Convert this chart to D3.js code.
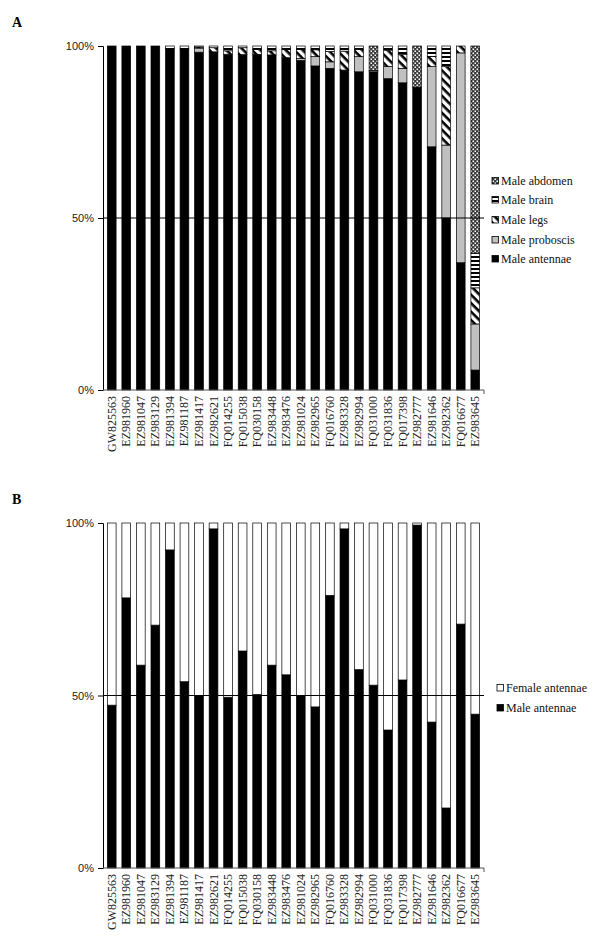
<!DOCTYPE html>
<html>
<head>
<meta charset="utf-8">
<script src="https://cdn.jsdelivr.net/npm/d3@7"></script>
<style>
  html, body { margin: 0; padding: 0; background: #fff; }
  svg { display: block; }
</style>
</head>
<body>
<svg id="chart" width="600" height="943"></svg>
<script>
const categories = ["GW825563","EZ981960","EZ981047","EZ983129","EZ981394","EZ981187","EZ981417","EZ982621","FQ014255","FQ015038","FQ030158","EZ983448","EZ983476","EZ981024","EZ982965","FQ016760","EZ983328","EZ982994","FQ031000","FQ031836","FQ017398","EZ982777","EZ981646","EZ982362","FQ016677","EZ983645"];

// Panel A (percent of total, stacked bottom to top)
const maleAntennaeA  = [100,100,100,100,99.2,99.1,98.2,98.3,97.6,97.5,97.6,97.4,96.6,95.8,94.2,93.5,93.0,92.5,92.5,90.5,89.3,87.8,70.7,50.0,37.0,5.8];
const maleProboscisA = [0,0,0,0,0,0,1.2,0,0,0,0,0,0,0.6,2.7,1.9,0,4.4,0.4,3.6,4.2,0.2,23.3,21.2,61.0,13.4];
const maleLegsA      = [0,0,0,0,0,0,0.3,1.2,1.0,2.0,1.4,1.2,2.4,2.6,2.0,3.0,5.5,2.1,0,4.7,4.0,0,3.0,22.8,2.0,10.5];
const maleBrainA     = [0,0,0,0,0.8,0.9,0.3,0.5,1.4,0.5,1.0,1.4,1.0,1.0,1.1,1.6,1.5,1.0,0,1.2,2.5,0,3.0,6.0,0,10.0];
const maleAbdomenA   = [0,0,0,0,0,0,0,0,0,0,0,0,0,0,0,0,0,0,7.1,0,0,12.0,0,0,0,60.3];

// Panel B
const maleAntennaeB   = [47.2,78.3,58.8,70.4,92.2,54.0,50.0,98.3,49.5,62.9,50.3,58.8,56.0,50.0,46.7,79.0,98.3,57.5,53.0,40.0,54.5,99.4,42.3,17.4,70.7,44.6];
const femaleAntennaeB = [52.8,21.7,41.2,29.6,7.8,46.0,50.0,1.7,50.5,37.1,49.7,41.2,44.0,50.0,53.3,21.0,1.7,42.5,47.0,60.0,45.5,0.6,57.7,82.6,29.3,55.4];

const yTicks = [0, 50, 100];
const yTickLabels = ["0%", "50%", "100%"];

const seriesA = [
  {name: "Male antennae",  values: maleAntennaeA,  fill: "#000"},
  {name: "Male proboscis", values: maleProboscisA, fill: "#c0c0c0"},
  {name: "Male legs",      values: maleLegsA,      fill: "url(#pLegs)"},
  {name: "Male brain",     values: maleBrainA,     fill: "url(#pBrain)"},
  {name: "Male abdomen",   values: maleAbdomenA,   fill: "url(#pAbd)"}
];
const seriesB = [
  {name: "Male antennae",   values: maleAntennaeB,   fill: "#000"},
  {name: "Female antennae", values: femaleAntennaeB, fill: "#fff"}
];

const SERIF = "'Liberation Serif', 'Times New Roman', serif";
const SANS = "'Liberation Sans', Arial, sans-serif";

const svg = d3.select("#chart");
const defs = svg.append("defs");

// patterns
const pAbd = defs.append("pattern").attr("id","pAbd").attr("patternUnits","userSpaceOnUse").attr("width",4).attr("height",4);
pAbd.append("rect").attr("width",4).attr("height",4).attr("fill","#3a3a3a");
pAbd.append("rect").attr("x",0.5).attr("y",0.5).attr("width",1.6).attr("height",1.6).attr("fill","#fff");
pAbd.append("rect").attr("x",2.5).attr("y",2.5).attr("width",1.6).attr("height",1.6).attr("fill","#fff");

const pBrain = defs.append("pattern").attr("id","pBrain").attr("patternUnits","userSpaceOnUse").attr("width",4).attr("height",4);
pBrain.append("rect").attr("width",4).attr("height",4).attr("fill","#fff");
pBrain.append("rect").attr("y",0).attr("width",4).attr("height",2).attr("fill","#000");

const pLegs = defs.append("pattern").attr("id","pLegs").attr("patternUnits","userSpaceOnUse").attr("width",6).attr("height",6).attr("patternTransform","rotate(45)");
pLegs.append("rect").attr("width",6).attr("height",6).attr("fill","#fff");
pLegs.append("rect").attr("y",0).attr("width",6).attr("height",2.6).attr("fill","#000");

const x = d3.scaleBand().domain(categories).range([103, 484]).paddingInner(0.4).paddingOuter(0.3);

function drawPanel(top, bottom, series, letter, legendX, legendYs) {
  const y = d3.scaleLinear().domain([0, 100]).range([bottom, top]);
  const g = svg.append("g");

  // stacked bars
  categories.forEach((c, i) => {
    let acc = 0;
    series.forEach(s => {
      const v = s.values[i];
      if (v > 0) {
        g.append("rect")
          .attr("x", x(c))
          .attr("y", y(acc + v))
          .attr("width", x.bandwidth())
          .attr("height", y(acc) - y(acc + v))
          .attr("fill", s.fill)
          .attr("stroke", "#000")
          .attr("stroke-width", 0.7);
      }
      acc += v;
    });
  });

  // y axis
  const yAxis = d3.axisLeft(y).tickValues(yTicks).tickFormat((d, i) => yTickLabels[i]).tickSize(5).tickPadding(4);
  const ga = g.append("g").attr("transform", "translate(103,0)").call(yAxis);
  ga.select(".domain").attr("stroke", "#000").attr("stroke-width", 1);
  ga.selectAll(".tick line").attr("stroke", "#000");
  ga.selectAll(".tick text").attr("font-family", SANS).attr("font-size", 11).attr("fill", "#222");

  // 50% line
  g.append("line").attr("x1", 103).attr("x2", 484).attr("y1", y(50)).attr("y2", y(50)).attr("stroke", "#000").attr("stroke-width", 1);

  // x baseline
  g.append("line").attr("x1", 103).attr("x2", 484).attr("y1", y(0)).attr("y2", y(0)).attr("stroke", "#555").attr("stroke-width", 1);
  g.append("line").attr("x1", 484).attr("x2", 484).attr("y1", y(0)).attr("y2", y(0) + 4).attr("stroke", "#555").attr("stroke-width", 1);

  // x labels
  categories.forEach(c => {
    const cx = x(c) + x.bandwidth() / 2 + 4;
    g.append("text")
      .attr("transform", `translate(${cx},${bottom + 6}) rotate(-90)`)
      .attr("text-anchor", "end")
      .attr("font-family", SERIF)
      .attr("font-size", 12)
      .attr("fill", "#222")
      .text(c);
  });

  // panel letter
  g.append("text").attr("x", 12).attr("y", top - 19)
    .attr("font-family", SERIF)
    .attr("font-weight", "bold").attr("font-size", 14).text(letter);

  // legend (top item = last series)
  const rev = series.slice().reverse();
  rev.forEach((s, i) => {
    const ly = legendYs[i];
    g.append("rect").attr("x", legendX).attr("y", ly - 3.5).attr("width", 6.5).attr("height", 6.5)
      .attr("fill", s.fill).attr("stroke", "#000").attr("stroke-width", 0.8);
    g.append("text").attr("x", legendX + 9).attr("y", ly + 4)
      .attr("font-family", SERIF)
      .attr("font-size", 12).attr("fill", "#111").text(s.name);
  });
}

drawPanel(46, 390, seriesA, "A", 492, [181, 200, 220, 240, 259]);
drawPanel(523, 868, seriesB, "B", 497, [688, 708]);
</script>
</body>
</html>
